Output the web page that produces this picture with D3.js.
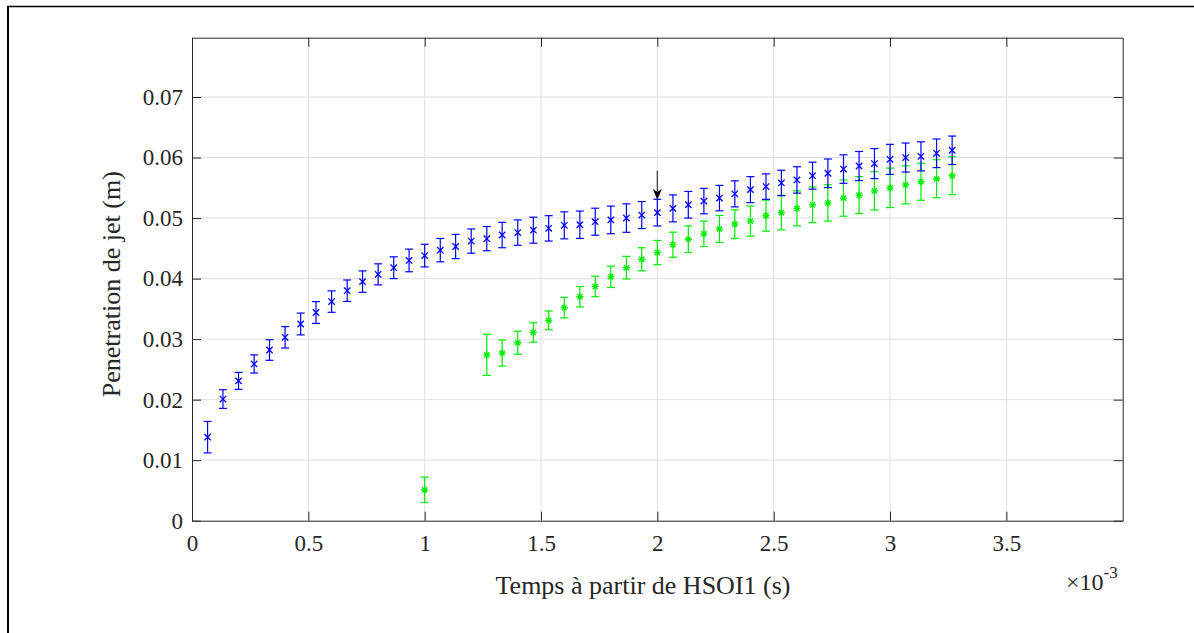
<!DOCTYPE html>
<html><head><meta charset="utf-8">
<script src="https://cdn.jsdelivr.net/npm/d3@7"></script>
<style>
html,body{margin:0;padding:0;background:#fff;}
svg{display:block;font-family:"Liberation Serif","Times New Roman",serif;}
</style></head>
<body>
<svg id="chart" width="1194" height="633"></svg>
<script>
// time in ms (axis shown with ×10^-3 multiplier)
const blueTime = [0.067,0.133,0.200,0.267,0.333,0.400,0.467,0.533,0.600,0.667,0.733,0.800,0.867,0.933,1.000,1.067,1.133,1.200,1.267,1.333,1.400,1.467,1.533,1.600,1.667,1.733,1.800,1.867,1.933,2.000,2.067,2.133,2.200,2.267,2.333,2.400,2.467,2.533,2.600,2.667,2.733,2.800,2.867,2.933,3.000,3.067,3.133,3.200,3.267];
const blueValue = [0.0138,0.0201,0.0231,0.0259,0.0282,0.0303,0.0325,0.0344,0.0362,0.0380,0.0395,0.0407,0.0418,0.0430,0.0438,0.0447,0.0453,0.0462,0.0466,0.0472,0.0476,0.0480,0.0483,0.0488,0.0489,0.0494,0.0497,0.0500,0.0505,0.0509,0.0516,0.0522,0.0528,0.0533,0.0540,0.0547,0.0552,0.0558,0.0563,0.0570,0.0574,0.0581,0.0586,0.0590,0.0597,0.0600,0.0602,0.0607,0.0612];
const blueError = [0.0026,0.00154,0.0014,0.0015,0.0017,0.00177,0.0018,0.0018,0.00177,0.00177,0.00177,0.00174,0.0018,0.00187,0.00187,0.00193,0.0020,0.0020,0.0020,0.0021,0.0021,0.00215,0.0021,0.00223,0.00226,0.00223,0.00228,0.00235,0.00223,0.0022,0.00223,0.0022,0.0021,0.0021,0.00215,0.00215,0.0021,0.0021,0.00218,0.00223,0.00236,0.00235,0.0024,0.00248,0.00248,0.0024,0.0024,0.00236,0.00235];

const greenTime = [1.000,1.267,1.333,1.400,1.467,1.533,1.600,1.667,1.733,1.800,1.867,1.933,2.000,2.067,2.133,2.200,2.267,2.333,2.400,2.467,2.533,2.600,2.667,2.733,2.800,2.867,2.933,3.000,3.067,3.133,3.200,3.267];
const greenValue = [0.0051,0.0274,0.0277,0.0294,0.0311,0.0331,0.0352,0.0370,0.0387,0.0403,0.0418,0.0432,0.0443,0.0456,0.0465,0.0474,0.0482,0.0490,0.0495,0.0504,0.0509,0.0516,0.0522,0.0525,0.0533,0.0538,0.0545,0.0550,0.0555,0.0560,0.0565,0.0570];
const greenError = [0.0021,0.0034,0.00215,0.0019,0.0016,0.00155,0.0017,0.0017,0.0017,0.00177,0.00187,0.0019,0.0020,0.00207,0.0022,0.0021,0.00223,0.00235,0.0025,0.00256,0.00286,0.0029,0.00294,0.0030,0.0030,0.00306,0.00317,0.00326,0.00314,0.00306,0.00314,0.00314];

const xTicks = [0,0.5,1,1.5,2,2.5,3,3.5];
const xTickLabels = ["0","0.5","1","1.5","2","2.5","3","3.5"];
const yTicks = [0,0.01,0.02,0.03,0.04,0.05,0.06,0.07];
const yTickLabels = ["0","0.01","0.02","0.03","0.04","0.05","0.06","0.07"];
const arrowAt = {x: 2.0, yFrom: 0.0578, yTo: 0.0530};

const svg = d3.select("#chart");
const L = 192, T = 37.7, R = 1122.7, B = 520.7;
const x = d3.scaleLinear().domain([0, 4]).range([L, R]);
const y = d3.scaleLinear().domain([0, 0.0798]).range([B, T]);
const axisColor = "#262626";

// outer frame
svg.append("line").attr("x1",7).attr("x2",1194).attr("y1",6.5).attr("y2",6.5).attr("stroke","#000").attr("stroke-width",1.5);
svg.append("line").attr("x1",8).attr("x2",8).attr("y1",6).attr("y2",633).attr("stroke","#000").attr("stroke-width",2);

// grid
const grid = svg.append("g");
grid.selectAll(".gx").data(xTicks.slice(1)).enter().append("line")
  .attr("x1",d=>x(d)).attr("x2",d=>x(d)).attr("y1",T).attr("y2",B)
  .attr("stroke","#dfdfdf").attr("stroke-width",1);
grid.selectAll(".gy").data(yTicks.slice(1)).enter().append("line")
  .attr("x1",L).attr("x2",R).attr("y1",d=>y(d)).attr("y2",d=>y(d))
  .attr("stroke","#dfdfdf").attr("stroke-width",1);

// axes
const tickLen = 9;
const fmtX = (d,i)=>xTickLabels[i];
const fmtY = (d,i)=>yTickLabels[i];
const gxB = svg.append("g").attr("transform",`translate(0,${B})`)
  .call(d3.axisBottom(x).tickValues(xTicks).tickFormat(fmtX).tickSizeInner(-tickLen).tickSizeOuter(0).tickPadding(18));
const gxT = svg.append("g").attr("transform",`translate(0,${T})`)
  .call(d3.axisTop(x).tickValues(xTicks).tickFormat("").tickSizeInner(-tickLen).tickSizeOuter(0));
const gyL = svg.append("g").attr("transform",`translate(${L},0)`)
  .call(d3.axisLeft(y).tickValues(yTicks).tickFormat(fmtY).tickSizeInner(-tickLen).tickSizeOuter(0).tickPadding(9));
const gyR = svg.append("g").attr("transform",`translate(${R},0)`)
  .call(d3.axisRight(y).tickValues(yTicks).tickFormat("").tickSizeInner(-tickLen).tickSizeOuter(0));
[gxB,gxT,gyL,gyR].forEach(g=>{
  g.select(".domain").attr("stroke",axisColor).attr("stroke-width",1);
  g.selectAll(".tick line").attr("stroke",axisColor).attr("stroke-width",1);
  g.selectAll(".tick text").attr("fill",axisColor).style("font-family","'Liberation Serif',serif").style("font-size","23px");
});
gxB.selectAll(".tick text").attr("dy","0.55em");

// axis labels
svg.append("text").attr("x",643).attr("y",594).attr("text-anchor","middle")
  .attr("fill",axisColor).style("font-size","26px").text("Temps à partir de HSOI1 (s)");
svg.append("text").attr("transform",`translate(120,${(T+B)/2 + 5}) rotate(-90)`).attr("text-anchor","middle")
  .attr("fill",axisColor).style("font-size","26px").text("Penetration de jet (m)");
const mult = svg.append("text").attr("x",1066).attr("y",590).attr("fill",axisColor).style("font-size","24px");
mult.append("tspan").text("×10");
mult.append("tspan").attr("dy",-12).style("font-size","17px").text("-3");

// series
function drawSeries(times, vals, errs, color, marker){
  const g = svg.append("g");
  const data = times.map((t,i)=>({t, v: vals[i], e: errs[i]}));
  const cap = 4;
  const eb = g.selectAll(".eb").data(data).enter().append("g");
  eb.append("line").attr("x1",d=>x(d.t)).attr("x2",d=>x(d.t)).attr("y1",d=>y(d.v+d.e)).attr("y2",d=>y(d.v-d.e))
    .attr("stroke",color).attr("stroke-width",1.2);
  eb.append("line").attr("x1",d=>x(d.t)-cap).attr("x2",d=>x(d.t)+cap).attr("y1",d=>y(d.v+d.e)).attr("y2",d=>y(d.v+d.e))
    .attr("stroke",color).attr("stroke-width",1.2);
  eb.append("line").attr("x1",d=>x(d.t)-cap).attr("x2",d=>x(d.t)+cap).attr("y1",d=>y(d.v-d.e)).attr("y2",d=>y(d.v-d.e))
    .attr("stroke",color).attr("stroke-width",1.2);
  const s = 3.2;
  let p;
  if (marker === "x") {
    p = `M${-s},${-s}L${s},${s}M${-s},${s}L${s},${-s}`;
  } else {
    const a = 3.6, b = 2.6;
    p = `M0,${-a}L0,${a}M${-a},0L${a},0M${-b},${-b}L${b},${b}M${-b},${b}L${b},${-b}`;
  }
  g.selectAll(".mk").data(data).enter().append("path")
    .attr("transform",d=>`translate(${x(d.t)},${y(d.v)})`)
    .attr("d",p).attr("stroke",color).attr("stroke-width",1.3).attr("fill","none");
}
drawSeries(greenTime, greenValue, greenError, "#00ee00", "*");
drawSeries(blueTime, blueValue, blueError, "#0000ff", "x");

// arrow annotation
const ax = x(arrowAt.x), ay1 = y(arrowAt.yFrom), ay2 = y(arrowAt.yTo);
svg.append("line").attr("x1",ax).attr("x2",ax).attr("y1",ay1).attr("y2",ay2-6).attr("stroke","#444").attr("stroke-width",1.3);
svg.append("path").attr("d",`M${ax},${ay2}L${ax-4.5},${ay2-11}L${ax},${ay2-8}L${ax+4.5},${ay2-11}Z`).attr("fill","#000");
</script>
</body></html>
